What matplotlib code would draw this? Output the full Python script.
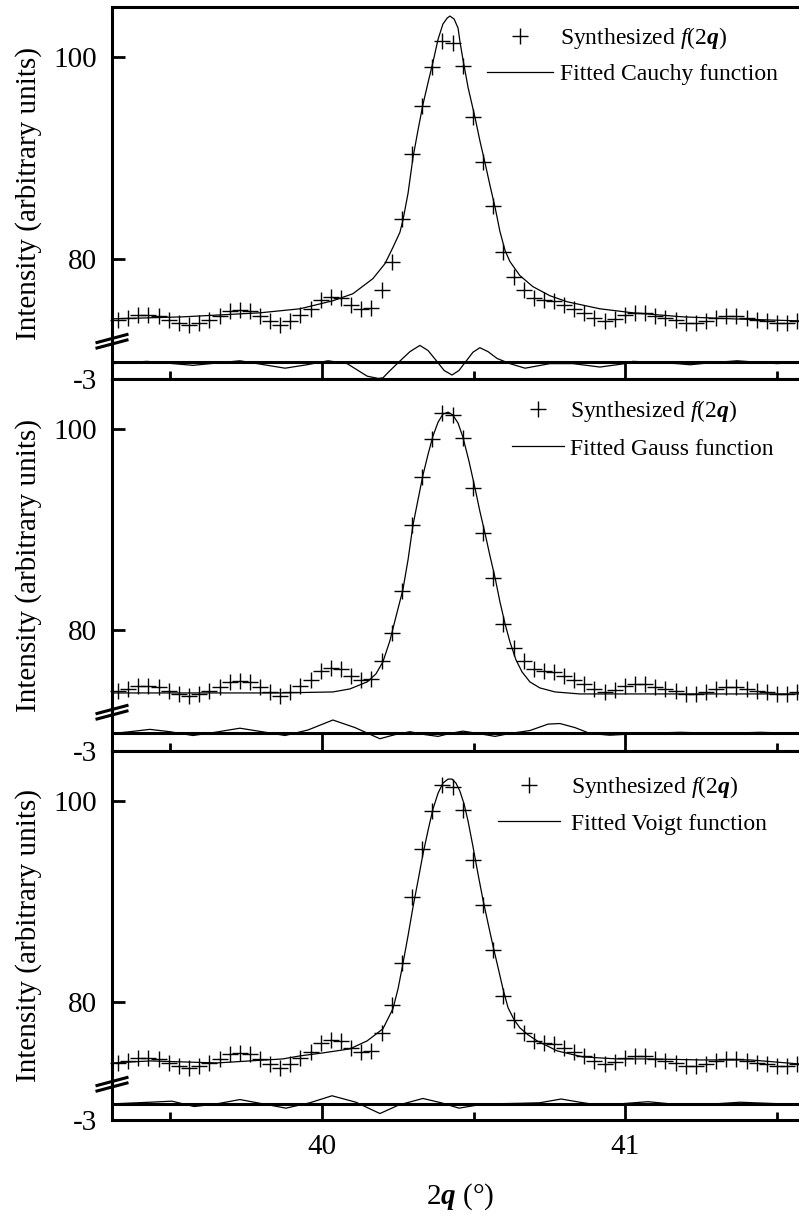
import matplotlib
matplotlib.use('Agg')
import matplotlib.pyplot as plt
from matplotlib.lines import Line2D
from matplotlib.ticker import FixedLocator

plt.rcParams['font.family'] = 'Liberation Serif'
plt.rcParams['axes.unicode_minus'] = False
plt.rcParams['mathtext.fontset'] = 'custom'
plt.rcParams['mathtext.rm'] = 'Liberation Serif'
plt.rcParams['mathtext.it'] = 'Liberation Serif:italic'
plt.rcParams['mathtext.bf'] = 'Liberation Serif:bold'
plt.rcParams['mathtext.bfit'] = 'Liberation Serif:italic:bold'

# synthesized profile (same points in all three panels)
two_theta = [39.327, 39.360, 39.394, 39.427, 39.461, 39.494, 39.528, 39.561, 39.595, 39.628,
             39.662, 39.695, 39.728, 39.762, 39.795, 39.829, 39.862, 39.896, 39.929, 39.963,
             39.996, 40.029, 40.063, 40.096, 40.130, 40.163, 40.197, 40.230, 40.264, 40.297,
             40.331, 40.364, 40.397, 40.431, 40.464, 40.498, 40.531, 40.565, 40.598, 40.632,
             40.665, 40.698, 40.732, 40.765, 40.799, 40.832, 40.866, 40.899, 40.933, 40.966,
             41.000, 41.033, 41.066, 41.100, 41.133, 41.167, 41.200, 41.234, 41.267, 41.301,
             41.334, 41.367, 41.401, 41.434, 41.468, 41.501, 41.535, 41.568]
intensity = [73.9, 74.1, 74.4, 74.4, 74.3, 73.9, 73.6, 73.4, 73.6, 73.9,
             74.3, 74.8, 74.9, 74.8, 74.3, 73.8, 73.4, 73.8, 74.4, 75.0,
             75.9, 76.2, 76.1, 75.4, 75.0, 75.1, 76.9, 79.7, 83.9, 90.4,
             95.2, 99.0, 101.6, 101.4, 99.1, 94.1, 89.6, 85.2, 80.6, 78.2,
             76.9, 76.1, 75.9, 75.8, 75.4, 75.0, 74.6, 74.1, 73.8, 74.0,
             74.4, 74.6, 74.6, 74.3, 74.1, 73.9, 73.6, 73.6, 73.8, 74.1,
             74.3, 74.3, 74.1, 73.9, 73.8, 73.6, 73.6, 73.8]

# fitted Cauchy curve and its residual
cauchy_x = [39.310, 39.541, 39.795, 39.927, 40.036, 40.102, 40.168, 40.208, 40.234, 40.257,
            40.267, 40.284, 40.300, 40.317, 40.333, 40.350, 40.366, 40.383, 40.399, 40.413,
            40.422, 40.436, 40.449, 40.455, 40.465, 40.482, 40.505, 40.521, 40.538, 40.554,
            40.571, 40.587, 40.604, 40.620, 40.653, 40.696, 40.752, 40.809, 40.917, 41.026,
            41.191, 41.356, 41.574]
cauchy_y = [74.0, 74.2, 74.6, 75.0, 75.8, 76.5, 78.0, 79.5, 81.1, 82.6,
            83.8, 86.5, 90.0, 92.8, 95.3, 97.5, 99.5, 101.8, 103.3, 103.9,
            104.1, 103.8, 102.9, 101.6, 99.8, 97.0, 94.0, 91.7, 89.5, 87.3,
            85.1, 82.7, 80.8, 79.7, 78.3, 77.2, 76.3, 75.7, 75.0, 74.6,
            74.2, 74.0, 73.8]
cauchy_res_x = [39.310, 39.422, 39.574, 39.729, 39.878, 39.950, 40.020, 40.083, 40.149, 40.185,
                40.201, 40.221, 40.254, 40.290, 40.323, 40.350, 40.376, 40.403, 40.429, 40.452,
                40.475, 40.498, 40.521, 40.548, 40.578, 40.620, 40.670, 40.752, 40.828, 40.917,
                41.000, 41.026, 41.172, 41.215, 41.271, 41.370, 41.502, 41.574]
cauchy_res_y = [-0.3, 0.1, -0.6, 0.2, -1.1, -0.5, 0.2, -0.3, -2.5, -2.9,
                -2.8, -1.7, 0.0, 1.8, 2.9, 2.0, 0.3, -1.5, -2.3, -1.5,
                0.1, 1.7, 2.5, 1.8, 0.6, -0.3, -1.1, -0.3, -0.3, -0.9,
                -0.3, 0.1, -0.3, -0.5, -0.2, 0.2, -0.3, 0.0]

# fitted Gauss curve and its residual
gauss_x = [39.310, 39.597, 39.861, 40.036, 40.092, 40.149, 40.178, 40.201, 40.224, 40.244,
           40.267, 40.284, 40.300, 40.317, 40.333, 40.350, 40.366, 40.383, 40.399, 40.416,
           40.432, 40.449, 40.465, 40.485, 40.505, 40.521, 40.538, 40.554, 40.571, 40.587,
           40.604, 40.620, 40.640, 40.660, 40.686, 40.719, 40.769, 40.851, 41.574]
gauss_y = [73.7, 73.7, 73.7, 73.8, 74.1, 74.8, 75.6, 76.8, 78.9, 81.3,
           84.0, 87.0, 90.4, 93.0, 95.4, 97.5, 99.3, 100.7, 101.5, 101.7,
           101.4, 100.6, 99.2, 96.8, 94.1, 91.8, 89.6, 87.4, 85.2, 82.8,
           80.6, 78.8, 77.0, 75.8, 74.8, 74.2, 73.8, 73.6, 73.6]
gauss_res_x = [39.310, 39.366, 39.432, 39.498, 39.574, 39.647, 39.729, 39.802, 39.878, 39.954,
               40.036, 40.109, 40.191, 40.241, 40.290, 40.340, 40.383, 40.422, 40.465, 40.515,
               40.571, 40.620, 40.686, 40.746, 40.785, 40.835, 40.884, 40.950, 41.050, 41.182,
               41.314, 41.446, 41.574]
gauss_res_y = [0.0, 0.3, 0.7, 0.3, -0.35, 0.2, 0.9, 0.3, -0.35, 0.6,
               2.3, 1.0, -0.9, -0.2, 0.3, -0.2, -0.5, 0.0, 0.4, 0.0,
               -0.5, 0.0, 0.5, 1.6, 1.7, 1.0, 0.0, -0.3, 0.0, 0.2,
               0.0, 0.2, 0.0]

# fitted Voigt curve and its residual
voigt_x = [39.310, 39.432, 39.653, 39.762, 39.871, 39.927, 40.003, 40.092, 40.149, 40.201,
           40.234, 40.251, 40.267, 40.284, 40.300, 40.317, 40.333, 40.350, 40.366, 40.383,
           40.399, 40.416, 40.429, 40.442, 40.455, 40.469, 40.482, 40.498, 40.515, 40.531,
           40.548, 40.564, 40.581, 40.597, 40.614, 40.634, 40.653, 40.680, 40.710, 40.776,
           40.861, 40.974, 41.083, 41.248, 41.413, 41.574]
voigt_y = [73.9, 74.1, 73.9, 74.1, 74.3, 74.6, 74.9, 75.3, 76.1, 77.3,
           79.3, 81.3, 83.8, 86.6, 89.4, 92.1, 94.7, 97.1, 99.2, 100.8,
           101.8, 102.2, 102.2, 101.8, 101.0, 99.7, 98.0, 95.5, 92.7, 90.2,
           87.8, 85.6, 83.4, 81.3, 79.4, 78.2, 77.4, 76.7, 76.1, 75.1,
           74.5, 74.3, 74.3, 74.2, 74.2, 73.8]
voigt_res_x = [39.310, 39.432, 39.505, 39.578, 39.653, 39.729, 39.805, 39.881, 39.960, 40.033,
               40.112, 40.191, 40.254, 40.333, 40.393, 40.452, 40.505, 40.554, 40.653, 40.719,
               40.789, 40.851, 40.908, 40.983, 41.076, 41.149, 41.211, 41.297, 41.380, 41.515,
               41.574]
voigt_res_y = [0.0, 0.3, 0.5, -0.5, 0.0, 0.8, 0.0, -0.8, 0.2, 1.5,
               0.3, -1.8, -0.2, 1.0, 0.2, -0.8, -0.3, 0.0, 0.1, 0.2,
               0.9, 0.3, -0.2, 0.0, 0.4, 0.0, -0.2, 0.0, 0.3, 0.0,
               0.0]

W, H = 799, 1217
LEFT = 112
fig = plt.figure(figsize=(W / 100, H / 100), dpi=100)


def fx(px):
    return px / W


def fy(py):
    return 1 - py / H


def draw_panel(top, brk, bottom, fit_x, fit_y, res_x, res_y, fit_label, leg, last):
    ax = fig.add_axes([fx(LEFT), fy(brk), 1 - fx(LEFT), (brk - top) / H])
    rax = fig.add_axes([fx(LEFT), fy(bottom), 1 - fx(LEFT), (bottom - brk) / H])

    ax.plot(two_theta, intensity, '+', color='black', markersize=11, mew=1.0,
            label=r'Synthesized $f$(2$\mathbfit{q}$)', clip_on=False)
    ax.plot(fit_x, fit_y, '-', color='black', lw=0.9, label=fit_label)
    ax.set_xlim(39.307, 41.574)
    ax.set_ylim(71.7, 105)
    ax.yaxis.set_major_locator(FixedLocator([80, 100]))
    ax.tick_params(axis='y', direction='in', length=9.5, width=2, labelsize=21, pad=11)
    ax.set_xticks([])
    for side in ['bottom', 'right']:
        ax.spines[side].set_visible(False)
    for side in ['top', 'left']:
        ax.spines[side].set_linewidth(2.2)

    leg_x, leg_dy, hlen, hpad, lspace = leg
    ax.legend(loc='upper left', bbox_to_anchor=(fx(leg_x), fy(top + leg_dy)),
              bbox_transform=fig.transFigure, frameon=False, fontsize=17,
              borderpad=0, borderaxespad=0, handlelength=hlen, handletextpad=hpad,
              labelspacing=lspace)

    rax.plot(res_x, res_y, '-', color='black', lw=0.9)
    rax.axhline(0, color='black', lw=2.2)
    rax.set_xlim(39.307, 41.574)
    rax.set_ylim(-3, 3.5)
    rax.yaxis.set_major_locator(FixedLocator([-3]))
    rax.tick_params(axis='y', direction='in', length=0, labelsize=21, pad=11)
    rax.xaxis.set_major_locator(FixedLocator([40, 41]))
    rax.xaxis.set_minor_locator(FixedLocator([39.5, 40.5, 41.5]))
    rax.tick_params(axis='x', which='major', direction='in', length=12.5, width=2,
                    labelsize=21, pad=10, labelbottom=last)
    rax.tick_params(axis='x', which='minor', direction='in', length=6, width=2)
    for side in ['top', 'right']:
        rax.spines[side].set_visible(False)
    for side in ['bottom', 'left']:
        rax.spines[side].set_linewidth(2.2)

    # axis break marks on the left spine
    for off in (0, -5.5):
        fig.add_artist(Line2D([fx(97), fx(127)], [fy(brk + 6 + off), fy(brk - 2 + off)],
                              color='black', lw=2.2, transform=fig.transFigure))

    fig.text(fx(29), fy((top + bottom) / 2), 'Intensity (arbitrary units)',
             rotation=90, ha='center', va='center', fontsize=21)


draw_panel(7, 342, 379, cauchy_x, cauchy_y, cauchy_res_x, cauchy_res_y,
           'Fitted Cauchy function', (487, 18, 2.8, 0.3, 0.52), False)
draw_panel(379, 713, 751, gauss_x, gauss_y, gauss_res_x, gauss_res_y,
           'Fitted Gauss function', (512, 19, 2.2, 0.25, 0.6), False)
draw_panel(751, 1085, 1120, voigt_x, voigt_y, voigt_res_x, voigt_res_y,
           'Fitted Voigt function', (498, 23, 2.63, 0.47, 0.56), True)

fig.text(fx(460), fy(1197), r'2$\mathbfit{q}$ (°)', ha='center', va='center', fontsize=21)

fig.savefig('out.png', dpi=100)
